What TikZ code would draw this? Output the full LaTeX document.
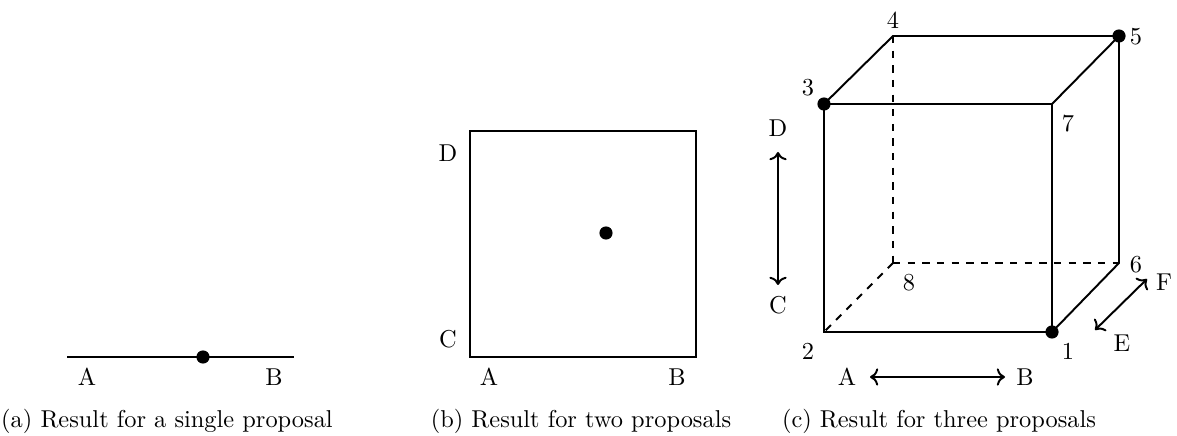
\documentclass[tikz,border=0pt]{standalone}
\usepackage{tikz}
\usetikzlibrary{arrows.meta,calc}

\begin{document}
\begin{tikzpicture}[x=0.41pt, y=-0.41pt,
        edge/.style={thick},
        hidden/.style={thick, dashed},
        dir/.style={thick, <->},
        dot/.style={circle, fill=black, inner sep=0pt, minimum size=5.4pt},
        lab/.style={inner sep=0pt}]
        \useasboundingbox (0,0) rectangle (1177,436);

        % (a) single proposal
        \coordinate (a1) at (67,357);
        \coordinate (a2) at (294,357);
        \draw[edge] (a1) -- (a2);
        \node[dot] (adot) at (203,357) {};
        \node[lab] (aA) at (87,377) {A};
        \node[lab] (aB) at (274,377) {B};
        \node (capa) at (167,421) {(a) Result for a single proposal};

        % (b) two proposals
        \coordinate (b1) at (470,357);
        \coordinate (b2) at (696,357);
        \coordinate (b3) at (696,131);
        \coordinate (b4) at (470,131);
        \draw[edge] (b1) -- (b2) -- (b3) -- (b4) -- cycle;
        \node[dot] (bdot) at (606,233) {};
        \node[lab] (bD) at (448,153) {D};
        \node[lab] (bC) at (448,339) {C};
        \node[lab] (bA) at (489,377) {A};
        \node[lab] (bB) at (677,377) {B};
        \node (capb) at (581,421) {(b) Result for two proposals};

        % (c) three proposals: cube corners
        \coordinate (v1) at (1052,332);
        \coordinate (v2) at (824,332);
        \coordinate (v3) at (824,104);
        \coordinate (v4) at (893,36);
        \coordinate (v5) at (1119,36);
        \coordinate (v6) at (1119,263);
        \coordinate (v7) at (1052,104);
        \coordinate (v8) at (893,263);

        % hidden edges
        \draw[hidden] (v4) -- (v8);
        \draw[hidden] (v8) -- (v6);
        \draw[hidden] (v8) -- (v2);

        % visible edges
        \draw[edge] (v3) -- (v7) -- (v1) -- (v2) -- cycle;
        \draw[edge] (v3) -- (v4) -- (v5) -- (v7);
        \draw[edge] (v5) -- (v6) -- (v1);

        \node[dot] (d1) at (v1) {};
        \node[dot] (d3) at (v3) {};
        \node[dot] (d5) at (v5) {};

        % corner numbers
        \node[lab] (n1) at (1068,351) {1};
        \node[lab] (n2) at (808,351) {2};
        \node[lab] (n3) at (808,88) {3};
        \node[lab] (n4) at (893,20) {4};
        \node[lab] (n5) at (1136,37) {5};
        \node[lab] (n6) at (1136,265) {6};
        \node[lab] (n7) at (1068,124) {7};
        \node[lab] (n8) at (909,283) {8};

        % axis arrows
        \node[lab] (cA) at (847,377) {A};
        \node[lab] (cB) at (1025,377) {B};
        \node[lab] (cD) at (778,128) {D};
        \node[lab] (cC) at (778,305) {C};
        \node[lab] (cE) at (1122,343) {E};
        \node[lab] (cF) at (1164,282) {F};
        \coordinate (ab1) at (870,377);
        \coordinate (ab2) at (1005,377);
        \coordinate (cd1) at (778,285);
        \coordinate (cd2) at (778,152);
        \coordinate (ef1) at (1095,330);
        \coordinate (ef2) at (1147,279);
        \draw[dir] (ab1) -- (ab2);
        \draw[dir] (cd1) -- (cd2);
        \draw[dir] (ef1) -- (ef2);
        \node (capc) at (939,421) {(c) Result for three proposals};
\end{tikzpicture}
\end{document}
